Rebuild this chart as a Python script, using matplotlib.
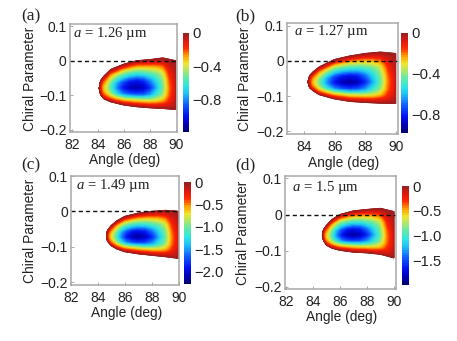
import numpy as np
import matplotlib
matplotlib.use("Agg")
import matplotlib.pyplot as plt
from matplotlib.colors import LinearSegmentedColormap

plt.rcParams['font.family'] = ['Liberation Sans', 'DejaVu Sans']
plt.rcParams['mathtext.fontset'] = 'custom'
plt.rcParams['mathtext.it'] = 'Liberation Serif:italic'
plt.rcParams['mathtext.rm'] = 'Liberation Serif'

W, H = 457, 341
GRAY = '#a8a8a8'
TXT = '#222222'

panel_names = ['(a)', '(b)', '(c)', '(d)']
lattice = ['1.26', '1.27', '1.49', '1.5']

# Read-off boundaries of the coloured region: angle, upper and lower edge
angles_a = [84.1, 84.2, 84.45, 85, 86, 87, 88, 89, 90]
upper_a = [-.08, -.058, -.045, -.025, -.01, 0, .003, .008, 0]
lower_a = [-.08, -.098, -.11, -.119, -.128, -.133, -.136, -.138, -.141]

angles_b = [84.26, 84.36, 84.6, 85, 86, 87, 88, 89, 90]
upper_b = [-.06, -.042, -.031, -.017, .004, .014, .021, .025, .021]
lower_b = [-.06, -.076, -.085, -.096, -.108, -.115, -.118, -.12, -.121]

angles_c = [84.65, 84.72, 85, 85.4, 86, 87, 88, 89, 90]
upper_c = [-.07, -.054, -.04, -.027, -.014, -.005, 0, .003, 0]
lower_c = [-.07, -.084, -.097, -.106, -.114, -.12, -.124, -.128, -.133]

angles_d = [84.7, 84.78, 85, 85.4, 86, 87, 88, 89, 90]
upper_d = [-.057, -.042, -.03, -.014, 0, .01, .014, .017, .008]
lower_d = [-.057, -.072, -.085, -.093, -.099, -.104, -.106, -.11, -.12]

# Read-off depth of the dip (0 edge, 1 centre): column = reference angle, row = position lower→upper
ref_angles = [84.2, 84.5, 85, 85.5, 86, 86.5, 87, 87.5, 88, 88.5, 89, 89.5, 90]
fractions = [0, .08, .16, .28, .42, .56, .7, .84, .92, 1]
depth = [
    [0, 0, 0, 0, 0, 0, 0, 0, 0, 0],
    [0, .08, .14, .2, .24, .24, .2, .13, .07, 0],
    [0, .12, .24, .38, .46, .44, .34, .22, .11, 0],
    [0, .15, .32, .58, .7, .66, .48, .28, .13, 0],
    [0, .16, .36, .72, .88, .8, .56, .32, .15, 0],
    [0, .16, .37, .78, .97, .88, .6, .33, .16, 0],
    [0, .16, .37, .8, 1, .9, .6, .33, .16, 0],
    [0, .16, .37, .78, .97, .86, .58, .32, .15, 0],
    [0, .16, .36, .7, .86, .74, .52, .29, .14, 0],
    [0, .15, .33, .56, .68, .6, .46, .26, .12, 0],
    [0, .12, .27, .42, .48, .44, .36, .2, .09, 0],
    [0, .08, .14, .2, .22, .2, .15, .09, .05, 0],
    [0, .03, .05, .07, .08, .07, .05, .03, .02, 0],
]

minimum = [-1.13, -0.94, -2.18, -1.9]
bar_low = [-1.19, -0.98, -2.28, -1.99]
bar_ticks = [[0, -.4, -.8], [0, -.4, -.8], [0, -.5, -1.0, -1.5, -2.0], [0, -.5, -1.0, -1.5]]
bar_labels = [['0', '−0.4', '−0.8'], ['0', '−0.4', '−0.8'],
              ['0', '−0.5', '−1.0', '−1.5', '−2.0'], ['0', '−0.5', '−1.0', '−1.5']]
x_ticks = [[82, 84, 86, 88, 90], [84, 86, 88, 90], [82, 84, 86, 88, 90], [82, 84, 86, 88, 90]]
y_ticks = [0.1, 0, -0.1, -0.2]
y_labels = ['0.1', '0', '−0.1', '−0.2']
xlims = [(81.8, 90.1), (82.86, 90.15), (82.0, 90.0), (81.9, 90.15)]
ylims = [(-.206, .106), (-.2076, .1076), (-.208, .1), (-.206, .1065)]

# pixel boxes: left, right, top, bottom
ax_box = [(69.5, 177, 24, 132), (286.7, 398, 23, 134), (70.7, 179, 176, 285), (284.7, 396, 176, 289)]
bar_box = [(183, 189, 33, 132), (401, 408, 33, 133), (184, 191, 182, 284), (402, 409, 186, 285)]
title_xy = [(21, 16), (235, 16), (21, 165), (235, 165)]
note_xy = [(73, 33), (293.5, 32), (76.5, 185), (292, 188)]
x_label_y = [160, 163, 313, 317]
y_label_x = [30, 245, 30, 243]

bounds = [(angles_a, upper_a, lower_a), (angles_b, upper_b, lower_b),
          (angles_c, upper_c, lower_c), (angles_d, upper_d, lower_d)]

cmap_stops = [(0, '#000078'), (.06, '#0000b0'), (.15, '#0010f0'), (.27, '#1060ff'),
              (.38, '#20c0f8'), (.46, '#30e8e0'), (.56, '#70e8a0'), (.63, '#b8e860'), (.69, '#f0e830'),
              (.77, '#ffa000'), (.85, '#ff2800'), (.92, '#e01810'), (1, '#9a2020')]
cmap = LinearSegmentedColormap.from_list('bar', cmap_stops, N=40)
smooth = LinearSegmentedColormap.from_list('field', cmap_stops, N=256)


def box(b):
    l, r, t, bt = b
    return [l / W, 1 - bt / H, (r - l) / W, (bt - t) / H]


fig = plt.figure(figsize=(W / 100, H / 100), dpi=100)

for i in range(4):
    ax = fig.add_axes(box(ax_box[i]))
    ang, up, lo = bounds[i]
    tip = ang[0]
    ref = np.array(ref_angles)
    cols = np.where(ref < 87, tip + (ref - 84.2) * (87 - tip) / (87 - 84.2), ref)
    fr = np.array(fractions)
    # refine the read-off grid so that the gouraud mesh follows the edge
    fine_c = np.linspace(0, len(cols) - 1, 90)
    fine_r = np.linspace(0, len(fr) - 1, 40)
    d = np.array(depth)
    d1 = np.array([np.interp(fine_r, np.arange(len(fr)), d[k]) for k in range(len(cols))])
    d2 = np.array([np.interp(fine_c, np.arange(len(cols)), d1[:, k]) for k in range(len(fine_r))]).T
    xs = np.interp(fine_c, np.arange(len(cols)), cols)
    us = np.interp(xs, ang, up)
    ls = np.interp(xs, ang, lo)
    frs = np.interp(fine_r, np.arange(len(fr)), fr)
    X = np.repeat(xs[:, None], len(frs), axis=1)
    Y = ls[:, None] + (us - ls)[:, None] * frs[None, :]
    Z = d2 * minimum[i]
    ax.pcolormesh(X, Y, Z, cmap=smooth, vmin=bar_low[i], vmax=0, shading='gouraud', rasterized=True)
    ax.plot(list(ang) + [ang[-1]] + list(ang[::-1]), list(up) + [lo[-1]] + list(lo[::-1]),
            color='#9a2020', lw=0.7, alpha=0.7)
    ax.plot(xlims[i], [0, 0], color='#111111', lw=1.0, ls=(0, (3, 2.2)))
    ax.set_xlim(*xlims[i])
    ax.set_ylim(*ylims[i])
    ax.set_xticks(x_ticks[i])
    ax.set_yticks(y_ticks)
    ax.set_yticklabels(y_labels)
    ax.tick_params(direction='in', length=2, width=0.7, color=GRAY, labelsize=10,
                   labelcolor=TXT, pad=2)
    ax.tick_params(axis='x', pad=4)
    for s in ax.spines.values():
        s.set_color(GRAY)
        s.set_linewidth(1.1)
    fig.text((ax_box[i][0] + ax_box[i][1]) / 2 / W + 0.003, 1 - x_label_y[i] / H, 'Angle (deg)',
             ha='center', va='center', fontsize=9.9, color=TXT)
    fig.text(y_label_x[i] / W, 1 - (ax_box[i][2] + ax_box[i][3]) / 2 / H - 0.002, 'Chiral Parameter',
             rotation=90, ha='center', va='center', fontsize=9.9, color=TXT)
    fig.text(note_xy[i][0] / W, 1 - note_xy[i][1] / H, r'$\mathit{a}$ = ' + lattice[i] + ' µm',
             ha='left', va='center', fontsize=10.6, color=TXT, family='Liberation Serif')
    fig.text(title_xy[i][0] / W, 1 - title_xy[i][1] / H, panel_names[i],
             ha='left', va='center', fontsize=12.5, color=TXT, family='Liberation Serif')

    cax = fig.add_axes(box(bar_box[i]))
    grad = np.linspace(0, 1, 256)[:, None]
    cax.imshow(grad, aspect='auto', cmap=cmap, origin='lower', extent=[0, 1, bar_low[i], 0])
    cax.set_xticks([])
    cax.yaxis.tick_right()
    cax.set_yticks(bar_ticks[i])
    cax.set_yticklabels(bar_labels[i])
    cax.tick_params(length=0, labelsize=10.6, labelcolor=TXT, pad=2.5)
    for s in cax.spines.values():
        s.set_visible(False)

fig.savefig('out.png', dpi=100)
